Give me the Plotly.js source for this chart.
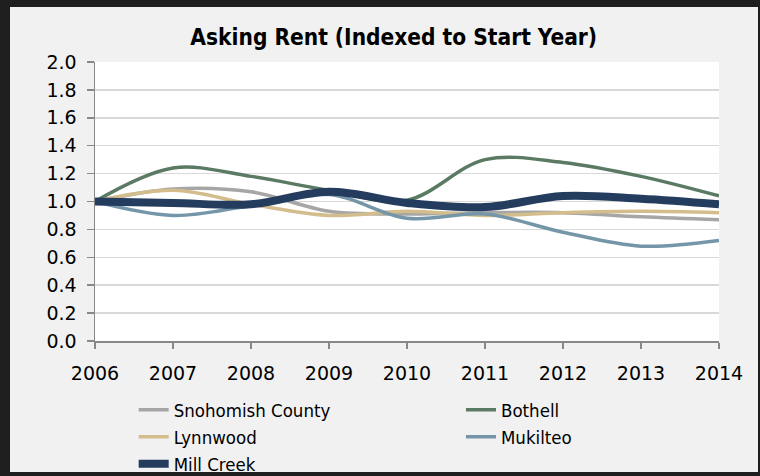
<!DOCTYPE html>
<html>
<head>
<meta charset="utf-8">
<script src="https://cdn.plot.ly/plotly-3.0.1.min.js"></script>
<style>
html,body{margin:0;padding:0;background:#1f1f1f;width:760px;height:476px;overflow:hidden;}
#panel{position:absolute;left:10px;top:7px;width:748px;height:465px;background:#f1f1f1;}
#chart{position:absolute;left:10px;top:7px;width:748px;height:469px;}
</style>
</head>
<body>
<div id="panel"></div>
<div id="chart"></div>
<script>
const years = [2006, 2007, 2008, 2009, 2010, 2011, 2012, 2013, 2014];
const snohomishCounty = [1.00, 1.09, 1.07, 0.93, 0.91, 0.92, 0.92, 0.89, 0.87];
const bothell        = [1.00, 1.24, 1.18, 1.08, 1.01, 1.30, 1.28, 1.18, 1.04];
const lynnwood       = [1.00, 1.08, 0.98, 0.90, 0.93, 0.90, 0.92, 0.93, 0.92];
const mukilteo       = [1.00, 0.90, 0.97, 1.05, 0.88, 0.91, 0.78, 0.68, 0.72];
const millCreek      = [1.00, 0.99, 0.98, 1.07, 0.99, 0.96, 1.04, 1.02, 0.98];
const yTicks = [0, 0.2, 0.4, 0.6, 0.8, 1.0, 1.2, 1.4, 1.6, 1.8, 2.0];

function series(name, y, color, width, legend) {
  return {x: years, y: y, name: name, type: 'scatter', mode: 'lines', legend: legend,
    line: {color: color, width: width, shape: 'spline', smoothing: 1}};
}
const data = [
  series('Snohomish County', snohomishCounty, '#a6a6a6', 3.5, 'legend'),
  series('Bothell', bothell, '#5b7a63', 3.5, 'legend2'),
  series('Lynnwood', lynnwood, '#d4bd8c', 3.5, 'legend'),
  series('Mukilteo', mukilteo, '#7596a8', 3.5, 'legend2'),
  series('Mill Creek', millCreek, '#243c5e', 8, 'legend')
];
const condensed = '"Liberation Sans Narrow", "DejaVu Sans Condensed", sans-serif';
const tickFont = {family: '"DejaVu Sans", Verdana, sans-serif', size: 19, color: '#000'};
const legendFont = {family: condensed, size: 18.5, color: '#000'};
const layout = {
  width: 748, height: 469,
  paper_bgcolor: 'rgba(0,0,0,0)', plot_bgcolor: '#ffffff',
  margin: {l: 85, r: 39, t: 55, b: 135, autoexpand: false},
  title: {text: 'Asking Rent (Indexed to Start Year)', x: 0.513, xanchor: 'center', xref: 'container',
    y: 1 - 30 / 469, yanchor: 'middle', yref: 'container',
    font: {family: condensed, size: 22.5, color: '#000', weight: 'bold'}},
  xaxis: {range: [2006, 2014], tickvals: years, ticktext: years.map(String),
    showgrid: false, zeroline: false, showline: true, linecolor: '#888', linewidth: 1.5,
    ticks: 'outside', ticklen: 6, tickcolor: '#888', tickwidth: 1.5, ticklabelstandoff: 9,
    tickfont: tickFont},
  yaxis: {range: [0, 2.0], tickvals: yTicks, ticktext: yTicks.map(v => v.toFixed(1)),
    showgrid: true, gridcolor: '#d9d9d9', gridwidth: 1.5, zeroline: false,
    showline: true, linecolor: '#888', linewidth: 1.5,
    ticks: 'outside', ticklen: 7, tickcolor: '#888', tickwidth: 1.5, ticklabelstandoff: 6,
    tickfont: tickFont},
  showlegend: true,
  legend: {orientation: 'v', x: 0.062, xanchor: 'left', y: -0.18, yanchor: 'top',
    tracegroupgap: 0, bgcolor: 'rgba(0,0,0,0)', traceorder: 'normal', font: legendFont},
  legend2: {orientation: 'v', x: 0.5865, xanchor: 'left', y: -0.18, yanchor: 'top',
    tracegroupgap: 0, bgcolor: 'rgba(0,0,0,0)', traceorder: 'normal', font: legendFont}
};
Plotly.newPlot('chart', data, layout, {displayModeBar: false, staticPlot: true});
</script>
</body>
</html>
